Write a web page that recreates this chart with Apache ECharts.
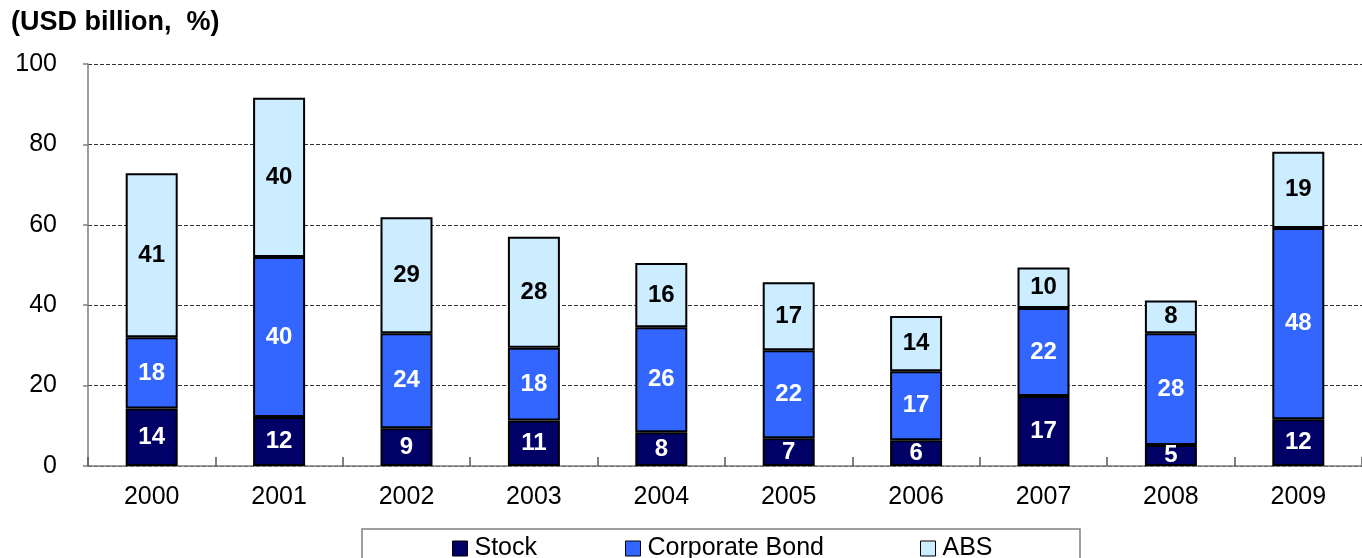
<!DOCTYPE html>
<html>
<head>
<meta charset="utf-8">
<script src="https://cdn.jsdelivr.net/npm/echarts@6/dist/echarts.min.js"></script>
<style>
html,body{margin:0;padding:0;background:#fff;}
#c{width:1362px;height:558px;}
</style>
</head>
<body>
<div id="c"></div>
<script>
const categories = ['2000','2001','2002','2003','2004','2005','2006','2007','2008','2009'];
const stock = [14.3, 12.2, 9.4, 11.3, 8.4, 6.9, 6.4, 17.4, 5.2, 11.6];
const corporateBond = [17.7, 39.8, 23.6, 18.1, 26.1, 21.9, 17.2, 21.9, 27.8, 47.6];
const abs = [40.8, 39.6, 28.9, 27.6, 16.0, 16.9, 13.7, 10.1, 8.2, 19.0];
const seriesNames = ['Stock', 'Corporate Bond', 'ABS'];
const yTitle = '(USD billion,  %)';

const FONT = '"Liberation Sans", Arial, sans-serif';
const colors = ['#000066', '#3366FF', '#CCECFF'];
const labelColors = ['#ffffff', '#ffffff', '#000000'];
const datasets = [stock, corporateBond, abs];

const chart = echarts.init(document.getElementById('c'), null, {renderer: 'canvas'});

const series = seriesNames.map((name, i) => ({
  name: name,
  type: 'bar',
  stack: 'total',
  barWidth: 52,
  data: datasets[i],
  itemStyle: {color: colors[i], borderColor: '#000', borderWidth: 2},
  label: {
    show: true,
    position: 'inside',
    color: labelColors[i],
    fontFamily: FONT,
    fontWeight: 'bold',
    fontSize: 24,
    formatter: p => Math.round(p.value)
  }
}));

const legendLefts = [452, 625, 920];
const legends = seriesNames.map((name, i) => ({
  data: [name],
  left: legendLefts[i],
  top: 536,
  padding: 0,
  icon: 'rect',
  itemWidth: 15,
  itemHeight: 15,
  itemGap: 0,
  selectedMode: false,
  itemStyle: {borderColor: '#000', borderWidth: 1},
  textStyle: {fontFamily: FONT, fontSize: 25, color: '#000', padding: [0,0,0,2]}
}));

chart.setOption({
  animation: false,
  backgroundColor: '#fff',
  grid: {left: 88, top: 64, width: 1290, height: 402, containLabel: false},
  title: {
    text: yTitle,
    left: 11,
    top: 9,
    padding: 0,
    textStyle: {fontFamily: FONT, fontSize: 27, fontWeight: 'bold', color: '#000'}
  },
  legend: legends,
  graphic: [{
    type: 'rect',
    shape: {x: 362, y: 529, width: 718, height: 40},
    style: {fill: 'none', stroke: '#808080', lineWidth: 1.5},
    silent: true
  }],
  xAxis: {
    type: 'category',
    data: categories,
    axisLine: {show: true, lineStyle: {color: '#808080', width: 1.5}},
    axisTick: {show: true, inside: true, length: 9, lineStyle: {color: '#555', width: 1.5}},
    axisLabel: {fontFamily: FONT, fontSize: 25, color: '#000', margin: 19}
  },
  yAxis: {
    type: 'value',
    min: 0,
    max: 100,
    interval: 20,
    axisLine: {show: true, lineStyle: {color: '#808080', width: 1.5}},
    axisTick: {show: true, length: 5, lineStyle: {color: '#808080', width: 1.5}},
    axisLabel: {fontFamily: FONT, fontSize: 25, color: '#000', margin: 31},
    splitLine: {show: true, lineStyle: {color: '#333', width: 1, type: [4, 2]}}
  },
  series: series
});
</script>
</body>
</html>
